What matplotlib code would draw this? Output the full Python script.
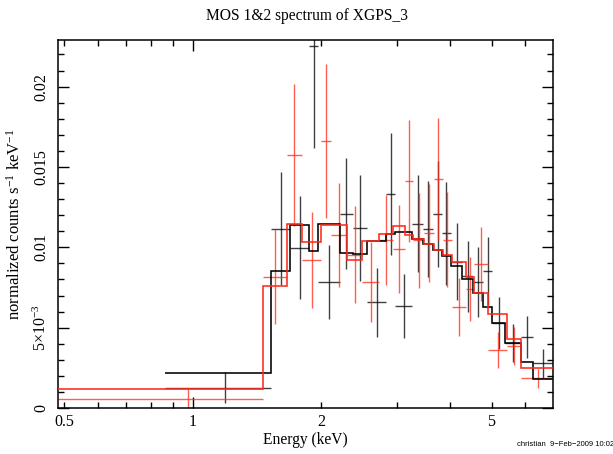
import matplotlib
matplotlib.use("Agg")
import matplotlib.pyplot as plt
from matplotlib.ticker import FixedLocator, FuncFormatter, MultipleLocator
import numpy as np

plt.rcParams["font.family"] = ["Liberation Serif", "DejaVu Serif"]
plt.rcParams["mathtext.fontset"] = "custom"
plt.rcParams["mathtext.rm"] = "Liberation Serif"
plt.rcParams["mathtext.it"] = "Liberation Serif:italic"
plt.rcParams["mathtext.bf"] = "Liberation Serif:bold"

# MOS1 (black): channel-group edges in keV, rates, 1-sigma errors, folded model
mos1_edges = [0.861, 1.525, 1.689, 1.872, 1.964, 2.211, 2.367, 2.553, 2.833, 2.978,
              3.258, 3.457, 3.649, 3.831, 4.013, 4.272, 4.532, 4.784, 5.021, 5.385,
              5.851, 6.262, 6.96]
mos1_rate = [0.00127, 0.01116, 0.00998, 0.02251, 0.00782, 0.0121, 0.0112, 0.00657,
             0.01334, 0.00637, 0.01147, 0.01114, 0.01205, 0.01086, 0.00909, 0.0082,
             0.00785, 0.00853, 0.00528, 0.00405, 0.0044, 0.00278]
mos1_err = [0.00094, 0.0035, 0.0032, 0.0063, 0.0023, 0.00345, 0.0033, 0.00215,
            0.0038, 0.002, 0.003, 0.003, 0.0033, 0.0032, 0.0024, 0.0022, 0.0022,
            0.0021, 0.0016, 0.0012, 0.0013, 0.0009]
mos1_model = [0.00219, 0.0085, 0.01138, 0.00978, 0.01144, 0.00966, 0.00956, 0.0104,
              0.01081, 0.01094, 0.0105, 0.01019, 0.00985, 0.00944, 0.00883, 0.00804,
              0.00717, 0.00631, 0.00529, 0.00402, 0.00286, 0.00181]

# MOS2 (red)
mos2_edges = [0.484, 1.463, 1.659, 1.799, 1.996, 2.104, 2.293, 2.493, 2.733, 2.937,
              3.138, 3.281, 3.476, 3.669, 3.845, 4.035, 4.351, 4.550, 4.898, 5.444,
              5.870, 6.96]
mos2_rate = [0.00053, 0.00818, 0.01573, 0.00922, 0.01662, 0.01078, 0.00955, 0.00784,
             0.01045, 0.00989, 0.01411, 0.01044, 0.01092, 0.01426, 0.01048, 0.00628,
             0.00739, 0.00895, 0.00361, 0.00386, 0.00184]
mos2_err = [0.0007, 0.00297, 0.00442, 0.00297, 0.00477, 0.00322, 0.003, 0.0025,
            0.0028, 0.00273, 0.0038, 0.00295, 0.00305, 0.0038, 0.00294, 0.0018,
            0.00198, 0.0023, 0.0011, 0.0012, 0.0006]
mos2_model = [0.00121, 0.00761, 0.01145, 0.01032, 0.0114, 0.0114, 0.00922, 0.01042,
              0.01082, 0.01134, 0.01078, 0.01051, 0.01022, 0.00984, 0.00953, 0.00911,
              0.00813, 0.00718, 0.00584, 0.00428, 0.0025]

x_tick_labels = {0.5: "0.5", 1: "1", 2: "2", 5: "5"}
y_major = [0, 0.005, 0.01, 0.015, 0.02]
y_tick_labels = ["0", r"5$\times$10$^{-3}$", "0.01", "0.015", "0.02"]

fig = plt.figure(figsize=(6.13, 4.54), dpi=100)
ax = fig.add_axes([0.0945, 0.1013, 0.8075, 0.8106])


def draw_data(edges, rate, err, color):
    edges = np.asarray(edges)
    lo, hi = edges[:-1], edges[1:]
    mid = 0.5 * (lo + hi)
    ax.errorbar(mid, rate, xerr=[mid - lo, hi - mid], yerr=err, fmt="none",
                ecolor=color, elinewidth=1.0, capsize=0, alpha=0.75, zorder=2)


draw_data(mos1_edges, mos1_rate, mos1_err, "black")
draw_data(mos2_edges, mos2_rate, mos2_err, "#ff2a1a")
ax.stairs(mos1_model, mos1_edges, baseline=None, color="black", linewidth=1.15, zorder=3)
ax.stairs(mos2_model, mos2_edges, baseline=None, color="#ff2a1a", linewidth=1.15, zorder=3)

ax.set_xscale("log")
ax.set_xlim(0.484, 6.96)
ax.set_ylim(0, 0.0229)

ax.xaxis.set_major_locator(FixedLocator([1]))
ax.xaxis.set_minor_locator(FixedLocator([0.5, 0.6, 0.7, 0.8, 0.9, 2, 3, 4, 5, 6, 7]))
fmt = FuncFormatter(lambda v, p: x_tick_labels.get(round(v, 3), ""))
ax.xaxis.set_major_formatter(fmt)
ax.xaxis.set_minor_formatter(fmt)

ax.yaxis.set_major_locator(FixedLocator(y_major))
ax.set_yticklabels(y_tick_labels)
ax.yaxis.set_minor_locator(MultipleLocator(0.001))

ax.tick_params(which="both", direction="in", top=True, right=True, width=1.0,
               labelsize=11.5, colors="black")
ax.tick_params(which="major", length=8)
ax.tick_params(which="minor", length=4.5)
ax.tick_params(axis="x", which="both", pad=4)
ax.tick_params(axis="y", which="both", pad=6)
for lab in ax.get_yticklabels():
    lab.set_rotation(90)
    lab.set_va("center")

for s in ax.spines.values():
    s.set_linewidth(1.1)

ax.set_xlabel("Energy (keV)", fontsize=11.2, labelpad=2)
ax.set_ylabel(r"normalized counts s$^{-1}$ keV$^{-1}$", fontsize=12, labelpad=6)
fig.text(0.5, 0.965, "MOS 1&2 spectrum of XGPS_3", ha="center", va="center", fontsize=11.2)
fig.text(0.843, 0.014, "christian  9\u2212Feb\u22122009 10:02", ha="left", va="bottom",
         fontsize=5.5, family="Liberation Sans")

fig.savefig("out.png", dpi=100)
